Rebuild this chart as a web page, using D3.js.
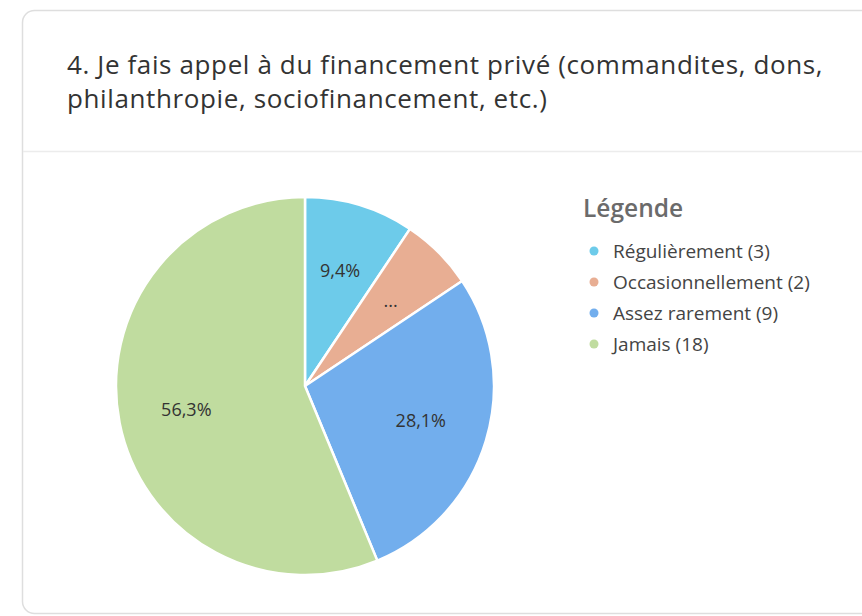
<!DOCTYPE html>
<html>
<head>
<meta charset="utf-8">
<script src="https://cdn.jsdelivr.net/npm/d3@7"></script>
<style>
  body { margin: 0; background: #ffffff; }
  svg { display: block; font-family: "Open Sans", "Noto Sans", sans-serif; }
</style>
</head>
<body>
<div id="chart"></div>
<script>
// data
var categories = ["Régulièrement", "Occasionnellement", "Assez rarement", "Jamais"];
var counts = [3, 2, 9, 18];
var colors = ["#6dcbea", "#e8ae93", "#72aeed", "#c0dc9f"];
var labels = ["9,4%", "...", "28,1%", "56,3%"];
var titleLines = ["4. Je fais appel à du financement privé (commandites, dons,",
                  "philanthropie, sociofinancement, etc.)"];

var W = 862, H = 616;
var svg = d3.select("#chart").append("svg").attr("width", W).attr("height", H);

// card
svg.append("rect")
    .attr("x", 22.5).attr("y", 10.5)
    .attr("width", 900).attr("height", 603)
    .attr("rx", 12)
    .attr("fill", "#fff")
    .attr("stroke", "#dedede")
    .attr("stroke-width", 1.5);

svg.append("line")
    .attr("x1", 23).attr("x2", W)
    .attr("y1", 151.5).attr("y2", 151.5)
    .attr("stroke", "#ececec")
    .attr("stroke-width", 1.5);

// title
svg.selectAll(".title").data(titleLines).enter().append("text")
    .attr("class", "title")
    .attr("x", 67)
    .attr("y", function(d, i) { return 74 + i * 34; })
    .attr("fill", "#333")
    .style("font-size", "26px")
    .style("letter-spacing", "0.62px")
    .text(function(d) { return d; });

// pie
var cx = 305, cy = 386, r = 189;
var pie = d3.pie().sort(null).value(function(d) { return d; });
var arcs = pie(counts);
var arc = d3.arc().innerRadius(0).outerRadius(r);
var labelArc = d3.arc().innerRadius(121).outerRadius(121);

var g = svg.append("g").attr("transform", "translate(" + cx + "," + cy + ")");

g.selectAll("path").data(arcs).enter().append("path")
    .attr("d", arc)
    .attr("fill", function(d, i) { return colors[i]; })
    .attr("stroke", "#fff")
    .attr("stroke-width", 2.5)
    .attr("stroke-linejoin", "round");

g.selectAll(".lbl").data(arcs).enter().append("text")
    .attr("class", "lbl")
    .attr("transform", function(d) { return "translate(" + labelArc.centroid(d) + ")"; })
    .attr("text-anchor", "middle")
    .attr("dy", "0.35em")
    .attr("fill", "#333")
    .style("font-size", "18px")
    .text(function(d, i) { return labels[i]; });

// legend
svg.append("text")
    .attr("x", 583).attr("y", 217)
    .attr("fill", "#6b6b6b")
    .style("font-size", "24.5px")
    .style("font-weight", "600")
    .text("Légende");

var leg = svg.selectAll(".leg").data(categories).enter().append("g")
    .attr("class", "leg")
    .attr("transform", function(d, i) { return "translate(594," + (251 + i * 31) + ")"; });

leg.append("circle").attr("r", 4.5).attr("fill", function(d, i) { return colors[i]; });
leg.append("text")
    .attr("x", 19).attr("dy", "0.35em")
    .attr("fill", "#444")
    .style("font-size", "19px")
    .text(function(d, i) { return d + " (" + counts[i] + ")"; });
</script>
</body>
</html>
